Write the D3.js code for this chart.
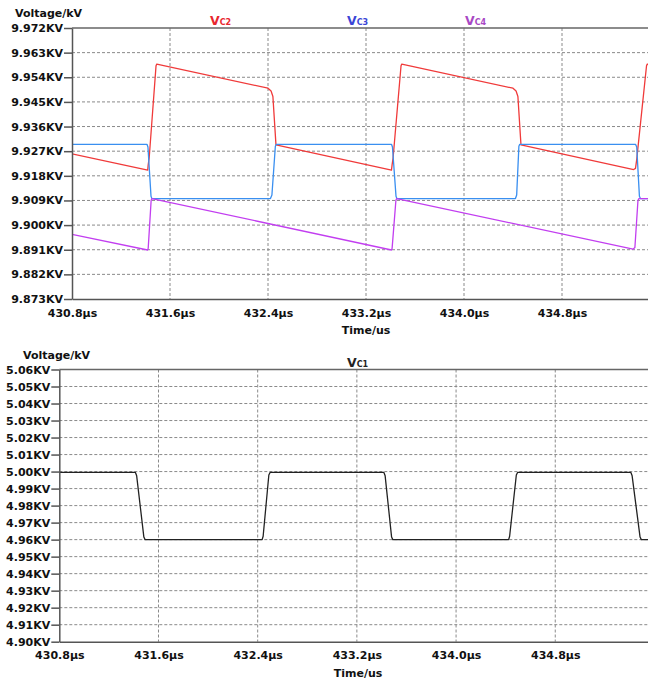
<!DOCTYPE html>
<html>
<head>
<meta charset="utf-8">
<script src="https://cdn.jsdelivr.net/npm/d3@7"></script>
<style>
  html, body { margin: 0; padding: 0; background: #fff; }
  svg { display: block; }
  text { font-family: "DejaVu Sans", Verdana, sans-serif; font-weight: bold; }
</style>
</head>
<body>
<svg id="chart" width="648" height="679"></svg>
<script>
// ---- Time axis (µs) ----
const timeTicks = [430.8, 431.6, 432.4, 433.2, 434.0, 434.8];

// ---- Upper panel: capacitor voltages VC2, VC3, VC4 (kV) ----
const upperTicks = [9.873, 9.882, 9.891, 9.900, 9.909, 9.918, 9.927, 9.936, 9.945, 9.954, 9.963, 9.972];

const vc2 = [
  [430.800, 9.9260], [431.418, 9.9201], [431.422, 9.9220], [431.430, 9.9245],
  [431.486, 9.9582], [431.492, 9.9588], [432.400, 9.9500], [432.425, 9.9490],
  [432.440, 9.9470], [432.465, 9.9293], [433.408, 9.9201], [433.413, 9.9220],
  [433.421, 9.9245], [433.486, 9.9582], [433.492, 9.9588], [434.400, 9.9500],
  [434.425, 9.9490], [434.440, 9.9470], [434.465, 9.9293], [435.385, 9.9203],
  [435.400, 9.9207], [435.410, 9.9240], [435.490, 9.9582], [435.496, 9.9588],
  [435.560, 9.9582]
];

const vc3 = [
  [430.800, 9.9295], [431.412, 9.9295], [431.420, 9.9285], [431.445, 9.9105],
  [431.452, 9.9097], [432.420, 9.9097], [432.432, 9.9110], [432.460, 9.9288],
  [432.468, 9.9295], [433.408, 9.9295], [433.416, 9.9285], [433.445, 9.9105],
  [433.452, 9.9097], [434.420, 9.9097], [434.430, 9.9110], [434.448, 9.9288],
  [434.455, 9.9295], [435.400, 9.9295], [435.410, 9.9285], [435.432, 9.9105],
  [435.440, 9.9097], [435.560, 9.9097]
];

const vc4 = [
  [430.800, 9.8966], [431.417, 9.8909], [431.422, 9.8915], [431.446, 9.9090],
  [431.452, 9.9097], [433.408, 9.8909], [433.413, 9.8915], [433.444, 9.9090],
  [433.450, 9.9097], [435.380, 9.8912], [435.395, 9.8918], [435.420, 9.9090],
  [435.428, 9.9097], [435.560, 9.9097]
];

// ---- Lower panel: VC1 (kV) ----
const lowerTicks = [4.90, 4.91, 4.92, 4.93, 4.94, 4.95, 4.96, 4.97, 4.98, 4.99, 5.00, 5.01, 5.02, 5.03, 5.04, 5.05, 5.06];

const vc1 = [
  [430.800, 4.9995], [431.414, 4.9995], [431.424, 4.9975], [431.482, 4.9615],
  [431.492, 4.9600], [432.436, 4.9600], [432.444, 4.9620], [432.490, 4.9980],
  [432.500, 4.9995], [433.418, 4.9995], [433.428, 4.9975], [433.480, 4.9615],
  [433.490, 4.9600], [434.424, 4.9600], [434.432, 4.9620], [434.486, 4.9980],
  [434.496, 4.9995], [435.410, 4.9995], [435.420, 4.9975], [435.484, 4.9615],
  [435.494, 4.9600], [435.600, 4.9600]
];

const svg = d3.select("#chart");
const fmtTime = d => d3.format(".1f")(d) + "µs";

function panel(cfg) {
  const { left, right, top, bottom, xDomain, yTicks, yFmt, series, legends } = cfg;
  const x = d3.scaleLinear().domain(xDomain).range([left, right]);
  const y = d3.scaleLinear().domain([yTicks[0], yTicks[yTicks.length - 1]]).range([bottom, top]);
  const g = svg.append("g");

  const clipId = "clip" + Math.round(top);
  svg.append("clipPath").attr("id", clipId)
    .append("rect").attr("x", left).attr("y", top - 2).attr("width", right - left).attr("height", bottom - top + 4);

  // dashed grid
  g.append("g").selectAll("line").data(yTicks.slice(1, -1)).join("line")
    .attr("x1", left).attr("x2", right).attr("y1", d => y(d)).attr("y2", d => y(d))
    .attr("stroke", "#8a8a8a").attr("stroke-width", 1).attr("stroke-dasharray", "3,2");
  g.append("g").selectAll("line").data(timeTicks.slice(1)).join("line")
    .attr("x1", d => x(d)).attr("x2", d => x(d)).attr("y1", top).attr("y2", bottom)
    .attr("stroke", "#8a8a8a").attr("stroke-width", 1).attr("stroke-dasharray", "3,2");

  // traces
  const line = d3.line().x(d => x(d[0])).y(d => y(d[1]));
  const traces = g.append("g").attr("clip-path", `url(#${clipId})`);
  series.forEach(s => {
    traces.append("path").datum(s.data)
      .attr("fill", "none").attr("stroke", s.color).attr("stroke-width", 1.3)
      .attr("stroke-linejoin", "round").attr("d", line);
  });

  // frame: top border
  g.append("line").attr("x1", left).attr("x2", right).attr("y1", top).attr("y2", top)
    .attr("stroke", "#666").attr("stroke-width", 1.5);

  // y axis
  const yAxis = g.append("g").attr("transform", `translate(${left},0)`)
    .call(d3.axisLeft(y).tickValues(yTicks).tickFormat(yFmt).tickSize(8).tickPadding(1).tickSizeOuter(0));
  yAxis.select(".domain").attr("stroke", "#555").attr("stroke-width", 1.5);
  yAxis.selectAll(".tick line").attr("stroke", "#555").attr("stroke-width", 1.5);
  yAxis.selectAll("text").attr("fill", "#111").style("font-size", "11px")
    .style("font-family", "'DejaVu Sans', Verdana, sans-serif").style("font-weight", "bold");

  // x axis
  const xAxis = g.append("g").attr("transform", `translate(0,${bottom})`)
    .call(d3.axisBottom(x).tickValues(timeTicks).tickFormat(fmtTime).tickSize(0).tickPadding(10).tickSizeOuter(0));
  xAxis.select(".domain").attr("stroke", "#555").attr("stroke-width", 1.5);
  xAxis.selectAll("text").attr("fill", "#111").style("font-size", "11px")
    .style("font-family", "'DejaVu Sans', Verdana, sans-serif").style("font-weight", "bold");

  // axis titles
  g.append("text").attr("x", cfg.yTitleX).attr("y", top - 11)
    .attr("font-size", 11).attr("fill", "#111").text("Voltage/kV");
  g.append("text").attr("x", cfg.xTitleX).attr("y", bottom + 35).attr("text-anchor", "middle")
    .attr("font-size", 11).attr("fill", "#111").text("Time/us");

  // trace labels
  legends.forEach(l => {
    const t = g.append("text").attr("x", l.x).attr("y", top - 3).attr("fill", l.color).attr("font-size", 12.5);
    t.append("tspan").text("V");
    t.append("tspan").attr("font-size", 8).text(l.sub);
  });
}

panel({
  left: 72, right: 648, top: 28, bottom: 299,
  xDomain: [430.8, 435.502],
  yTicks: upperTicks, yFmt: d => d3.format(".3f")(d) + "KV",
  yTitleX: 15, xTitleX: 366,
  series: [
    { data: vc2, color: "#f03a3a" },
    { data: vc3, color: "#3a8ff0" },
    { data: vc4, color: "#c23ef0" }
  ],
  legends: [
    { x: 210, sub: "C2", color: "#e8262e" },
    { x: 347, sub: "C3", color: "#3b45d6" },
    { x: 465, sub: "C4", color: "#a848c4" }
  ]
});

panel({
  left: 59.3, right: 648, top: 369.5, bottom: 641.7,
  xDomain: [430.8, 435.548],
  yTicks: lowerTicks, yFmt: d => d3.format(".2f")(d) + "KV",
  yTitleX: 23, xTitleX: 358,
  series: [{ data: vc1, color: "#222" }],
  legends: [{ x: 347, sub: "C1", color: "#222" }]
});
</script>
</body>
</html>
